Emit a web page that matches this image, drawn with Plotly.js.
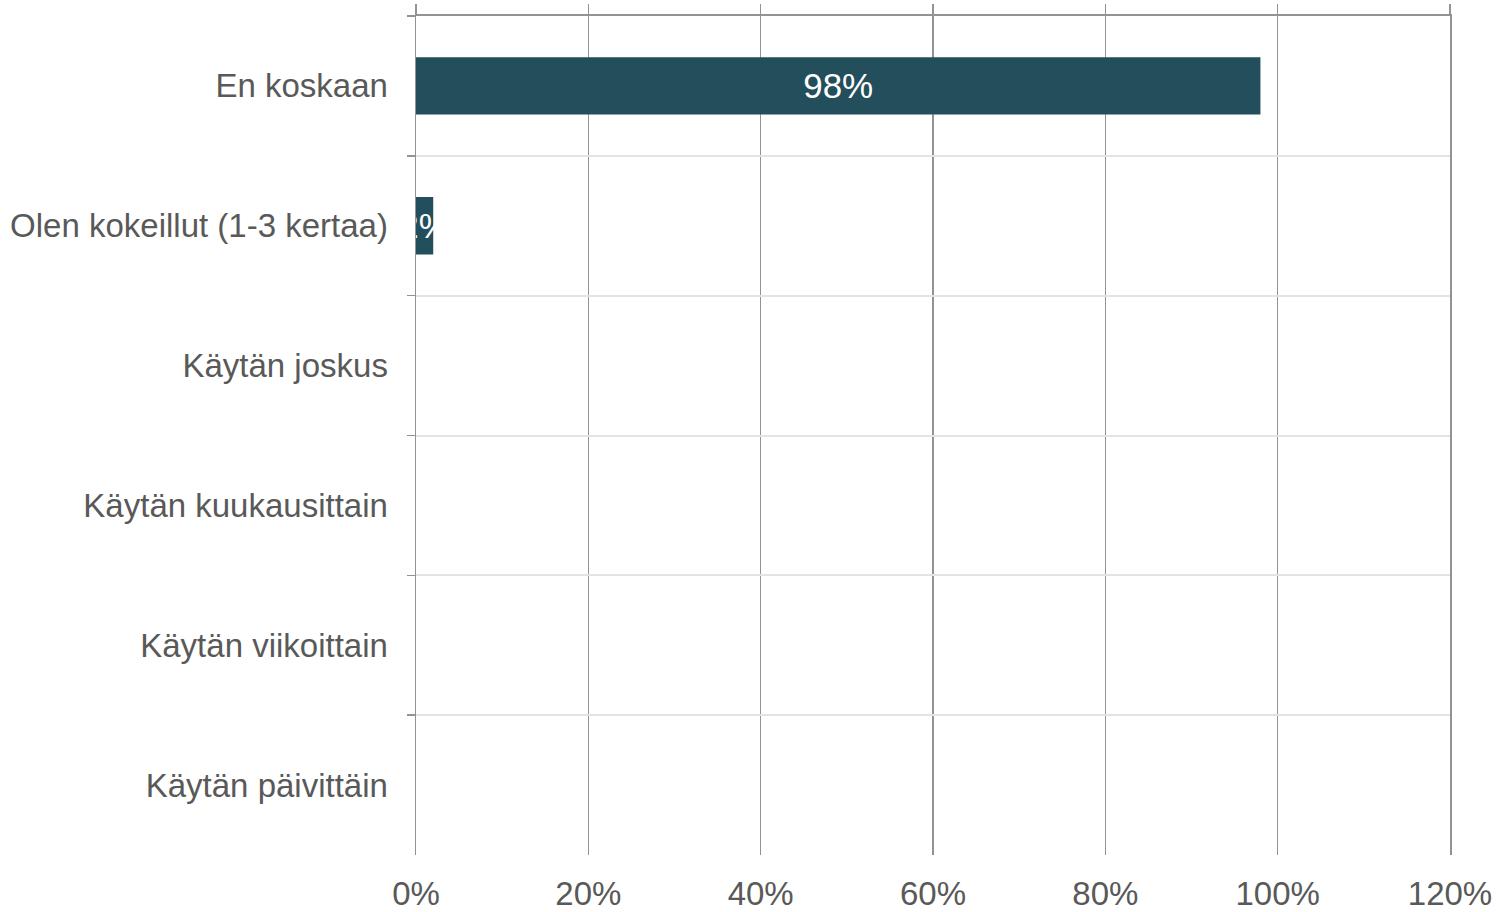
<!DOCTYPE html>
<html>
<head>
<meta charset="utf-8">
<script src="https://cdn.plot.ly/plotly-3.0.1.min.js"></script>
<style>html,body{margin:0;padding:0;background:#fff;}#chart{width:1497px;height:912px;}</style>
</head>
<body>
<div id="chart"></div>
<script>
const categories = ["En koskaan", "Olen kokeillut (1-3 kertaa)", "Käytän joskus", "Käytän kuukausittain", "Käytän viikoittain", "Käytän päivittäin"];
const values = [0.98, 0.02, 0, 0, 0, 0];
const xTickVals = [0, 0.2, 0.4, 0.6, 0.8, 1.0, 1.2];
const xTickText = ["0%", "20%", "40%", "60%", "80%", "100%", "120%"];

const labels = values.map(v => v > 0 ? Math.round(v * 100) + "%" : "");

const trace = {
  type: "bar",
  orientation: "h",
  x: values,
  y: categories,
  width: 0.41,
  marker: {color: "#234E5C"},
  text: labels,
  textposition: "inside",
  insidetextanchor: "middle",
  textangle: 0,
  textfont: {family: "Liberation Sans, Arial, sans-serif", size: 35, color: "#ffffff"},
  hoverinfo: "none",
  cliponaxis: true
};

const layout = {
  width: 1497,
  height: 912,
  margin: {l: 416, r: 47, t: 16, b: 57},
  paper_bgcolor: "#ffffff",
  plot_bgcolor: "#ffffff",
  showlegend: false,
  uniformtext: {mode: "show", minsize: 35},
  font: {family: "Liberation Sans, Arial, sans-serif", color: "#595959", size: 33},
  xaxis: {
    range: [0, 1.2],
    tickvals: xTickVals,
    ticktext: xTickText,
    showgrid: true,
    gridcolor: "#939393",
    gridwidth: 1.5,
    zeroline: false,
    showline: false,
    ticks: "",
    tickfont: {size: 33, color: "#595959"},
    ticklabelstandoff: 16,
    fixedrange: true
  },
  xaxis2: {
    overlaying: "x",
    side: "top",
    anchor: "y",
    range: [0, 1.2],
    tickvals: xTickVals,
    showticklabels: false,
    showgrid: false,
    zeroline: false,
    showline: true,
    linecolor: "#939393",
    linewidth: 2,
    ticks: "outside",
    ticklen: 10,
    tickwidth: 1.5,
    tickcolor: "#939393"
  },
  yaxis: {
    type: "category",
    categoryorder: "array",
    categoryarray: categories,
    range: [5.5, -0.5],
    tickson: "boundaries",
    ticks: "outside",
    ticklen: 8,
    tickwidth: 1.5,
    tickcolor: "#939393",
    showgrid: true,
    gridcolor: "#e3e3e3",
    gridwidth: 2,
    showline: true,
    mirror: true,
    linecolor: "#939393",
    linewidth: 1.5,
    zeroline: false,
    tickfont: {size: 33, color: "#595959"},
    ticklabelstandoff: 20,
    fixedrange: true
  }
};

Plotly.newPlot("chart", [trace, {type: "scatter", x: [0], y: [categories[0]], xaxis: "x2", yaxis: "y", mode: "none", hoverinfo: "none", showlegend: false}], layout, {displayModeBar: false, staticPlot: true});
</script>
</body>
</html>
